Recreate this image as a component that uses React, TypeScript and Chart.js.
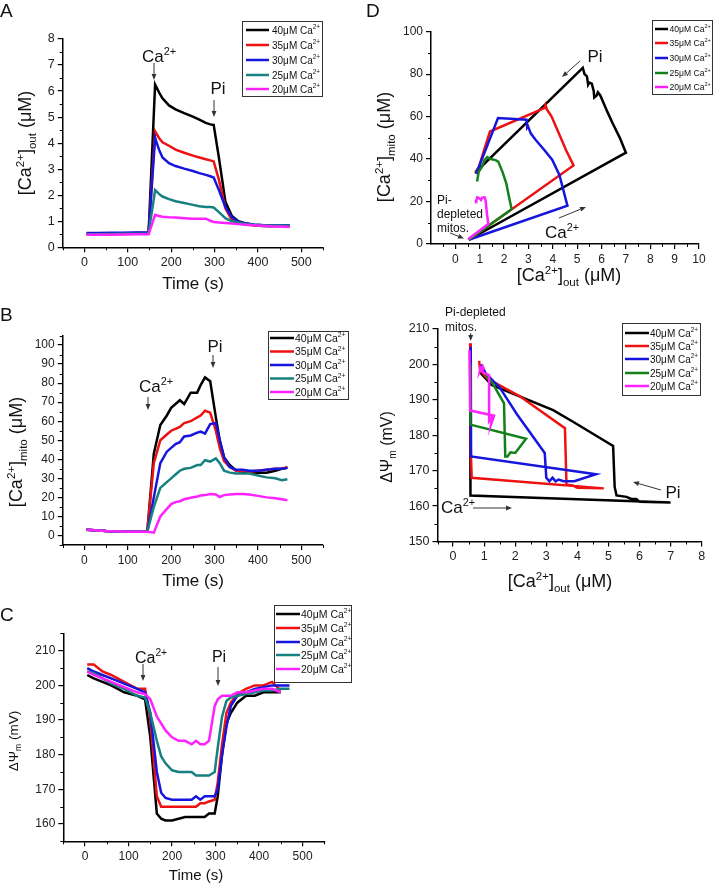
import React, { useEffect, useRef } from 'react';
import { Chart, registerables } from 'chart.js';

Chart.register(...registerables);

const FONT = '"Liberation Sans", Arial, Helvetica, sans-serif';

// ---------- legend / series labels & colours ----------
const seriesLabels = ['40μM Ca2+', '35μM Ca2+', '30μM Ca2+', '25μM Ca2+', '20μM Ca2+'];
const colorsTeal = ['#000000', '#ee1111', '#1515dd', '#178080', '#ff22ff'];
const colorsGreen = ['#000000', '#ee1111', '#1515dd', '#14801a', '#ff22ff'];

// ---------- tick labels ----------
const ticksTime = [0, 100, 200, 300, 400, 500];
const minorTime = [-50, 50, 150, 250, 350, 450, 550];
const ticksCaOutA = [0, 1, 2, 3, 4, 5, 6, 7, 8];
const minorCaOutA = [0.5, 1.5, 2.5, 3.5, 4.5, 5.5, 6.5, 7.5];
const ticksCaMitoB = [0, 10, 20, 30, 40, 50, 60, 70, 80, 90, 100];
const minorCaMitoB = [-5, 5, 15, 25, 35, 45, 55, 65, 75, 85, 95, 105];
const ticksPsiC = [160, 170, 180, 190, 200, 210];
const minorPsiC = [155, 165, 175, 185, 195, 205, 215];
const ticksCaOutD = [0, 1, 2, 3, 4, 5, 6, 7, 8, 9, 10];
const minorCaOutD = [-0.5, 0.5, 1.5, 2.5, 3.5, 4.5, 5.5, 6.5, 7.5, 8.5, 9.5];
const ticksCaMitoD = [0, 20, 40, 60, 80, 100];
const minorCaMitoD = [10, 30, 50, 70, 90];
const ticksCaOutE = [0, 1, 2, 3, 4, 5, 6, 7, 8];
const minorCaOutE = [-0.5, 0.5, 1.5, 2.5, 3.5, 4.5, 5.5, 6.5, 7.5];
const ticksPsiE = [150, 160, 170, 180, 190, 200, 210];
const minorPsiE = [155, 165, 175, 185, 195, 205];

// ---------- Panel A: [Ca2+]out vs time ----------
const timeA = [5, 30, 60, 90, 120, 148, 163, 172, 180, 195, 210, 230, 250, 265, 280, 290, 298, 310, 325, 340, 355, 370, 390, 410, 430, 450, 473];
const caOutA40 = [0.52, 0.52, 0.53, 0.54, 0.55, 0.56, 6.25, 5.95, 5.72, 5.45, 5.3, 5.15, 5.02, 4.9, 4.78, 4.72, 4.7, 3.45, 1.75, 1.2, 1.0, 0.93, 0.86, 0.82, 0.81, 0.82, 0.82];
const caOutA35 = [0.5, 0.5, 0.5, 0.51, 0.52, 0.53, 4.45, 4.2, 4.03, 3.9, 3.75, 3.63, 3.52, 3.45, 3.38, 3.34, 3.3, 2.6, 1.5, 1.05, 0.93, 0.88, 0.85, 0.84, 0.83, 0.82, 0.82];
const caOutA30 = [0.55, 0.55, 0.56, 0.56, 0.57, 0.58, 4.2, 3.75, 3.45, 3.23, 3.12, 3.02, 2.93, 2.85, 2.78, 2.73, 2.68, 2.2, 1.55, 1.15, 0.98, 0.92, 0.88, 0.86, 0.85, 0.85, 0.85];
const caOutA25 = [0.5, 0.5, 0.51, 0.52, 0.52, 0.53, 2.2, 2.05, 1.95, 1.85, 1.77, 1.7, 1.63, 1.58, 1.55, 1.55, 1.53, 1.35, 1.12, 1.0, 0.95, 0.9, 0.87, 0.85, 0.84, 0.84, 0.83];
const caOutA20 = [0.48, 0.48, 0.48, 0.49, 0.5, 0.5, 1.25, 1.2, 1.17, 1.15, 1.14, 1.12, 1.1, 1.1, 1.1, 1.02, 0.97, 0.95, 0.93, 0.91, 0.89, 0.87, 0.85, 0.83, 0.81, 0.8, 0.78];

// ---------- Panel B: [Ca2+]mito vs time ----------
const timeB = [5, 50, 100, 145, 160, 175, 190, 200, 210, 220, 230, 245, 260, 268, 278, 290, 303, 312, 322, 335, 350, 365, 380, 400, 420, 440, 455, 468];
const caMitoB40 = [3, 2.3, 2, 2, 43, 58, 63, 67, 69, 71, 69, 75, 75, 79, 83, 81, 62, 50, 41, 37, 34, 33.5, 33, 33, 33, 34, 35, 35.5];
const caMitoB35 = [3, 2.3, 2, 2, 38, 50, 53, 55, 56, 57, 59, 60, 62, 63, 65.5, 64.5, 55, 46, 39, 36, 34, 34, 33.5, 34, 34.5, 35, 35, 36];
const caMitoB30 = [3, 2.3, 2, 2, 20, 38, 44, 46, 48, 49, 52, 52.5, 54, 54.5, 53.5, 58.5, 59, 50, 41, 36, 34.5, 34.5, 34, 34, 34.5, 35, 35, 35.5];
const caMitoB25 = [3, 2.3, 2, 2, 15, 25, 28, 30, 32, 34, 35, 35.5, 37, 37, 39.5, 38.8, 40.5, 38, 34, 33, 32.5, 32.5, 32.5, 31.5, 30.5, 30, 29, 29.5];
const caMitoB20 = [3, 2.3, 2, 2, 1.5, 10, 14, 16.5, 17.5, 18, 19, 19.8, 20.5, 21, 21.2, 21.8, 21.5, 20.2, 21.2, 21.5, 21.8, 21.8, 21.5, 20.8, 20, 19.5, 19, 18.5];

// ---------- Panel C: ΔΨm vs time ----------
const timeC = [5, 20, 40, 60, 90, 120, 138, 150, 165, 175, 185, 200, 215, 230, 245, 255, 265, 275, 285, 298, 305, 315, 325, 335, 350, 370, 390, 410, 430, 450, 470];
const psiC40 = [203, 202, 201, 200, 198, 197, 196, 185, 163, 161.5, 161, 161, 161.5, 162, 162, 162, 162, 162, 163, 163, 168, 180, 189, 192, 195, 197, 197, 198, 198, 198, null];
const psiC35 = [206, 206, 204, 203, 201, 199, 199, 190, 168, 165, 165, 165, 165, 165, 165, 165, 166, 166, 166.5, 167, 172, 183, 192, 195, 197.5, 199, 200, 200, 201, 198.5, null];
const psiC30 = [205, 204, 203, 202, 200.5, 199, 198, 192, 175, 169, 167.5, 167, 167, 167, 167, 168, 167, 168, 168, 168, 170, 180, 188, 194, 197, 198, 199, 199.5, 200, 200, 200];
const psiC25 = [204, 203.5, 202, 200.5, 199, 197, 196.5, 192, 184, 179.5, 177.5, 175.5, 175, 175, 175, 174, 174, 174, 174, 175, 182, 191, 195.5, 196.5, 197, 197.5, 198, 198.5, 198.5, 199, 199];
const psiC20 = [204, 203, 202, 201, 199.5, 198, 197.5, 196, 191, 189, 187, 185, 184, 184, 183, 184, 183, 183, 184, 194, 196, 197, 197, 197, 198, 198, 198.5, 199, 199, 198, null];

// ---------- Panel D: [Ca2+]mito vs [Ca2+]out ----------
const dOut40 = [0.55, 7.0, 6.75, 6.45, 6.25, 6.1, 5.95, 5.85, 5.8, 5.7, 5.68, 5.6, 5.5, 5.45, 5.4, 5.3, 5.23, 0.85, 0.82, 0.95];
const dMito40 = [2, 43, 50, 57, 62, 66, 70, 71.5, 70, 69, 72, 75.5, 76, 75, 79, 80, 83, 34, 33.5, 36];
const dOut35 = [0.55, 4.85, 4.55, 4.25, 3.95, 3.75, 3.7, 3.65, 1.42, 0.93, 0.82];
const dMito35 = [2, 37, 44, 52, 60, 63.5, 65.5, 64, 53, 35, 34];
const dOut30 = [0.55, 4.6, 4.27, 3.98, 3.65, 3.3, 3.1, 3.03, 2.98, 2.95, 2.92, 1.75, 0.89, 0.85];
const dMito30 = [2, 18, 32.5, 39.6, 44.3, 49, 52, 54, 55.5, 55, 58.5, 59.3, 34, 33];
const dOut25 = [0.55, 2.31, 2.2, 2.09, 1.93, 1.76, 1.65, 1.45, 1.31, 1.2, 1.1, 0.96, 0.89];
const dMito25 = [2, 16.4, 22.3, 28.6, 34.1, 38.8, 39.5, 40, 40.9, 39.6, 36.5, 34, 29.4];
const dOut20 = [0.52, 1.35, 1.3, 1.24, 1.2, 1.1, 1.05, 0.95, 0.9, 0.87, 0.85];
const dMito20 = [2.2, 9.4, 14, 20.7, 22, 21.8, 20.7, 21.8, 22, 20.7, 19.2];

// ---------- Panel E: ΔΨm vs [Ca2+]out ----------
const eOut40 = [0.55, 0.56, 7.0, 6.0, 5.9, 5.74, 5.58, 5.26, 5.2, 5.15, 3.86, 3.22, 1.24, 0.86];
const ePsi40 = [203, 163, 161, 161.2, 162, 162, 162.6, 163, 165.4, 177, 183.8, 187.1, 194.2, 197.8];
const eOut35 = [0.55, 0.57, 0.6, 4.85, 4.0, 3.85, 3.65, 3.6, 2.15, 1.1, 0.87, 0.84];
const ePsi35 = [206, 176, 168, 165, 165.2, 165.8, 166, 182, 191, 196, 198.5, 201];
const eOut30 = [0.57, 0.58, 4.6, 3.9, 3.55, 3.4, 3.3, 3.2, 3.1, 3.0, 2.95, 2.05, 1.5, 1.05, 0.9];
const ePsi30 = [205, 174, 169, 167, 167, 167.5, 167, 168, 167, 168, 175, 186, 193.5, 197.5, 200];
const eOut25 = [0.55, 0.56, 2.35, 2.0, 1.85, 1.75, 1.68, 1.64, 1.25, 1.05];
const ePsi25 = [200, 183, 179, 175, 175.2, 174, 174, 189, 195, 197];
const eOut20 = [0.53, 0.55, 1.32, 1.22, 1.25, 1.16, 1.16, 1.0, 0.88, 0.86, 0.95, 1.0];
const ePsi20 = [204, 187, 185.5, 183, 185, 184, 197, 197.5, 199, 198, 199.5, 198.5];

// ---------- helpers ----------
type Part = [string, number]; // 0 normal, 1 superscript, 2 subscript

function richWidth(ctx: CanvasRenderingContext2D, parts: Part[], size: number) {
  let w = 0;
  for (const [t, k] of parts) {
    ctx.font = `${k ? size * 0.64 : size}px ${FONT}`;
    w += ctx.measureText(t).width;
  }
  return w;
}

function drawRich(ctx: CanvasRenderingContext2D, parts: Part[], x: number, y: number, size: number, align = 'center', rotate = false) {
  ctx.save();
  ctx.translate(x, y);
  if (rotate) ctx.rotate(-Math.PI / 2);
  const w = richWidth(ctx, parts, size);
  let cx = align === 'center' ? -w / 2 : 0;
  const base = size * 0.36;
  ctx.textBaseline = 'alphabetic';
  ctx.textAlign = 'left';
  for (const [t, k] of parts) {
    const s = k ? size * 0.64 : size;
    ctx.font = `${s}px ${FONT}`;
    const dy = k === 1 ? -size * 0.42 : k === 2 ? size * 0.24 : 0;
    ctx.fillText(t, cx, base + dy);
    cx += ctx.measureText(t).width;
  }
  ctx.restore();
}

function drawArrow(ctx: CanvasRenderingContext2D, x1: number, y1: number, x2: number, y2: number) {
  const a = Math.atan2(y2 - y1, x2 - x1);
  const c = Math.cos(a), s = Math.sin(a);
  const hl = 6, hw = 2.4;
  ctx.save();
  ctx.strokeStyle = '#333';
  ctx.fillStyle = '#333';
  ctx.lineWidth = 1;
  ctx.beginPath();
  ctx.moveTo(x1, y1);
  ctx.lineTo(x2 - hl * c, y2 - hl * s);
  ctx.stroke();
  ctx.beginPath();
  ctx.moveTo(x2, y2);
  ctx.lineTo(x2 - hl * c + hw * s, y2 - hl * s - hw * c);
  ctx.lineTo(x2 - hl * c - hw * s, y2 - hl * s + hw * c);
  ctx.closePath();
  ctx.fill();
  ctx.restore();
}

const caOutTitle: Part[] = [['[Ca', 0], ['2+', 1], [']', 0], ['out', 2], [' (μM)', 0]];
const caMitoTitle: Part[] = [['[Ca', 0], ['2+', 1], [']', 0], ['mito', 2], [' (μM)', 0]];
const psiTitle: Part[] = [['ΔΨ', 0], ['m', 2], [' (mV)', 0]];
const timeTitle: Part[] = [['Time (s)', 0]];
const caNote: Part[] = [['Ca', 0], ['2+', 1]];
const piNote: Part[] = [['Pi', 0]];

function makeDeco(d: any) {
  return {
    id: 'deco' + d.letter.text,
    afterDraw(chart: any) {
      const ctx: CanvasRenderingContext2D = chart.ctx;
      const xs = chart.scales.x, ys = chart.scales.y;
      const area = chart.chartArea;
      ctx.save();
      // minor ticks
      ctx.strokeStyle = '#000';
      ctx.lineWidth = 1;
      ctx.beginPath();
      for (const v of d.minorX) {
        const px = Math.round(xs.getPixelForValue(v)) + 0.5;
        ctx.moveTo(px, area.bottom);
        ctx.lineTo(px, area.bottom + 3);
      }
      for (const v of d.minorY) {
        const py = Math.round(ys.getPixelForValue(v)) + 0.5;
        ctx.moveTo(area.left - 3, py);
        ctx.lineTo(area.left, py);
      }
      ctx.stroke();
      ctx.fillStyle = '#111';
      // panel letter
      if (d.letter.show) {
        drawRich(ctx, [[d.letter.text, 0]], d.letter.x, d.letter.y, 19, 'left');
      }
      // axis titles
      drawRich(ctx, d.xTitle.parts, d.xTitle.x, d.xTitle.y, d.xTitle.size);
      drawRich(ctx, d.yTitle.parts, d.yTitle.x, d.yTitle.y, d.yTitle.size, 'center', true);
      // notes
      for (const n of d.notes) {
        drawRich(ctx, n.parts, n.x, n.y, n.size, n.align || 'center');
      }
      for (const a of d.arrows) drawArrow(ctx, a[0], a[1], a[2], a[3]);
      // legend
      const L = d.legend;
      ctx.fillStyle = '#fff';
      ctx.fillRect(L.x, L.y, L.w, L.h);
      ctx.strokeStyle = '#333';
      ctx.lineWidth = 1;
      ctx.strokeRect(L.x + 0.5, L.y + 0.5, L.w, L.h);
      chart.data.datasets.forEach((ds: any, i: number) => {
        const y = L.rows[i];
        ctx.strokeStyle = ds.borderColor;
        ctx.lineWidth = 2.5;
        ctx.beginPath();
        ctx.moveTo(L.l1, y);
        ctx.lineTo(L.l2, y);
        ctx.stroke();
        ctx.fillStyle = '#111';
        const lab: string = ds.label;
        drawRich(ctx, [[lab.slice(0, -2), 0], [lab.slice(-2), 1]], L.tx, y, L.size, 'left');
      });
      ctx.restore();
    },
  };
}

function axis(a: any, dir: string) {
  return {
    type: 'linear',
    min: a.min,
    max: a.max,
    afterBuildTicks: (s: any) => {
      s.ticks = a.ticks.map((v: number) => ({ value: v }));
    },
    afterFit: (s: any) => {
      if (dir === 'x') s.height = 35;
      else s.width = 45;
    },
    ticks: {
      autoSkip: false,
      maxRotation: 0,
      minRotation: 0,
      color: '#222',
      padding: 3,
      font: { size: a.font, family: FONT },
      callback: (v: any) => String(v),
    },
    grid: { drawOnChartArea: false, drawTicks: true, tickLength: 5, color: '#000', lineWidth: 1.2 },
    border: { display: true, color: '#000', width: 1.5 },
  };
}

function buildConfig(p: any) {
  return {
    type: 'line',
    data: {
      datasets: p.series.map((pts: any[], i: number) => ({
        label: seriesLabels[i],
        data: pts,
        borderColor: p.colors[i],
        backgroundColor: p.colors[i],
        borderWidth: 2.5,
        pointRadius: 0,
        tension: 0,
        fill: false,
        spanGaps: false,
        order: 4 - i,
      })),
    },
    options: {
      responsive: false,
      animation: false,
      events: [],
      layout: { padding: p.padding },
      plugins: { legend: { display: false }, tooltip: { enabled: false }, title: { display: false } },
      scales: { x: axis(p.x, 'x'), y: axis(p.y, 'y') },
    },
    plugins: [makeDeco(p.deco)],
  };
}

const timeSeries = (t: number[], v: (number | null)[]) => t.map((x, i) => ({ x, y: v[i] }));
const pairs = (xs: number[], ys: number[]) => xs.map((x, i) => ({ x, y: ys[i] }));

const panels = [
  {
    series: [timeSeries(timeA, caOutA40), timeSeries(timeA, caOutA35), timeSeries(timeA, caOutA30), timeSeries(timeA, caOutA25), timeSeries(timeA, caOutA20)],
    colors: colorsTeal,
    padding: { left: 17.7, right: 390, top: 39, bottom: 600.7 },
    x: { min: -50, max: 550, ticks: ticksTime, font: 12.5 },
    y: { min: 0, max: 8, ticks: ticksCaOutA, font: 12.5 },
    deco: {
      letter: { text: 'A', x: 0, y: 10, show: true },
      minorX: minorTime, minorY: minorCaOutA,
      xTitle: { parts: timeTitle, x: 193, y: 283, size: 17 },
      yTitle: { parts: caOutTitle, x: 25, y: 143, size: 18 },
      notes: [{ parts: caNote, x: 159, y: 56, size: 17 }, { parts: piNote, x: 218, y: 88, size: 17 }],
      arrows: [[154, 63, 154, 80], [214, 100, 214, 117]],
      legend: { x: 242, y: 21, w: 80, h: 75, rows: [30, 45, 60, 75, 89], l1: 246, l2: 269, tx: 272, size: 10 },
    },
  },
  {
    series: [timeSeries(timeB, caMitoB40), timeSeries(timeB, caMitoB35), timeSeries(timeB, caMitoB30), timeSeries(timeB, caMitoB25), timeSeries(timeB, caMitoB20)],
    colors: colorsTeal,
    padding: { left: 17.7, right: 390, top: 335.5, bottom: 303 },
    x: { min: -50, max: 550, ticks: ticksTime, font: 12 },
    y: { min: -5, max: 105, ticks: ticksCaMitoB, font: 12 },
    deco: {
      letter: { text: 'B', x: 0, y: 314, show: true },
      minorX: minorTime, minorY: minorCaMitoB,
      xTitle: { parts: timeTitle, x: 193, y: 580, size: 17 },
      yTitle: { parts: caMitoTitle, x: 16, y: 452, size: 18 },
      notes: [{ parts: caNote, x: 156, y: 386, size: 17 }, { parts: piNote, x: 215, y: 346, size: 17 }],
      arrows: [[148, 397, 148, 410], [213, 355, 213, 368]],
      legend: { x: 268, y: 331, w: 80, h: 68, rows: [338, 351.5, 365, 378.5, 392], l1: 270, l2: 294, tx: 295, size: 10.5 },
    },
  },
  {
    series: [timeSeries(timeC, psiC40), timeSeries(timeC, psiC35), timeSeries(timeC, psiC30), timeSeries(timeC, psiC25), timeSeries(timeC, psiC20)],
    colors: colorsTeal,
    padding: { left: 18.3, right: 388.7, top: 633.4, bottom: 6.7 },
    x: { min: -50, max: 550, ticks: ticksTime, font: 12 },
    y: { min: 155, max: 215, ticks: ticksPsiC, font: 12 },
    deco: {
      letter: { text: 'C', x: 0, y: 614, show: true },
      minorX: minorTime, minorY: minorPsiC,
      xTitle: { parts: timeTitle, x: 196, y: 875, size: 15 },
      yTitle: { parts: psiTitle, x: 13, y: 741, size: 13.5 },
      notes: [{ parts: caNote, x: 151, y: 657, size: 16 }, { parts: piNote, x: 219, y: 656, size: 16 }],
      arrows: [[143, 664, 143, 681], [218, 667, 218, 686]],
      legend: { x: 274, y: 605, w: 77, h: 77, rows: [614, 628, 642, 655, 669], l1: 276, l2: 300, tx: 301, size: 10.5 },
    },
  },
  {
    series: [pairs(dOut40, dMito40), pairs(dOut35, dMito35), pairs(dOut30, dMito30), pairs(dOut25, dMito25), pairs(dOut20, dMito20)],
    colors: colorsGreen,
    padding: { left: 386, right: 14, top: 31.7, bottom: 604 },
    x: { min: -1, max: 10, ticks: ticksCaOutD, font: 12 },
    y: { min: 0, max: 100, ticks: ticksCaMitoD, font: 12 },
    deco: {
      letter: { text: 'D', x: 366, y: 10, show: true },
      minorX: minorCaOutD, minorY: minorCaMitoD,
      xTitle: { parts: caOutTitle, x: 569, y: 275, size: 18 },
      yTitle: { parts: caMitoTitle, x: 384, y: 147, size: 18 },
      notes: [
        { parts: piNote, x: 595, y: 56, size: 17 },
        { parts: caNote, x: 562, y: 232, size: 17 },
        { parts: [['Pi-', 0]], x: 437, y: 200, size: 12, align: 'left' },
        { parts: [['depleted', 0]], x: 437, y: 214, size: 12, align: 'left' },
        { parts: [['mitos.', 0]], x: 437, y: 228, size: 12, align: 'left' },
      ],
      arrows: [[580, 61, 562, 77], [559, 218, 586, 207], [450, 233, 464, 238.5]],
      legend: { x: 652, y: 20, w: 60, h: 74, rows: [29, 43, 58, 73, 87], l1: 655, l2: 668, tx: 669.5, size: 8.6 },
    },
  },
  {
    series: [pairs(eOut40, ePsi40), pairs(eOut35, ePsi35), pairs(eOut30, ePsi30), pairs(eOut25, ePsi25), pairs(eOut20, ePsi20)],
    colors: colorsGreen,
    padding: { left: 392.5, right: 11.3, top: 329, bottom: 306.5 },
    x: { min: -0.5, max: 8, ticks: ticksCaOutE, font: 12.5 },
    y: { min: 150, max: 210, ticks: ticksPsiE, font: 12.5 },
    deco: {
      letter: { text: 'E', x: 0, y: 0, show: false },
      minorX: minorCaOutE, minorY: minorPsiE,
      xTitle: { parts: caOutTitle, x: 560, y: 581, size: 18 },
      yTitle: { parts: psiTitle, x: 386, y: 447, size: 16 },
      notes: [
        { parts: [['Pi-depleted', 0]], x: 445, y: 312, size: 12, align: 'left' },
        { parts: [['mitos.', 0]], x: 445, y: 327, size: 12, align: 'left' },
        { parts: piNote, x: 673, y: 492, size: 17 },
        { parts: caNote, x: 458, y: 507, size: 17 },
      ],
      arrows: [[470.7, 333, 470.7, 341], [661, 490, 633, 482], [473, 508, 512, 508]],
      legend: { x: 622, y: 323, w: 78, h: 72, rows: [333, 346, 359, 373, 386], l1: 625, l2: 649, tx: 650, size: 10 },
    },
  },
];

function Panel({ spec }: { spec: any }) {
  const ref = useRef<HTMLCanvasElement>(null);
  useEffect(() => {
    if (!ref.current) return;
    const chart = new Chart(ref.current, buildConfig(spec) as any);
    return () => chart.destroy();
  }, [spec]);
  return (
    <canvas
      ref={ref}
      width={713}
      height={883}
      style={{ position: 'absolute', left: 0, top: 0, width: 713, height: 883 }}
    />
  );
}

export default function App() {
  return (
    <div style={{ position: 'absolute', left: 0, top: 0, width: 713, height: 883, background: '#fff', overflow: 'hidden' }}>
      {panels.map((p, i) => (
        <Panel key={i} spec={p} />
      ))}
    </div>
  );
}
